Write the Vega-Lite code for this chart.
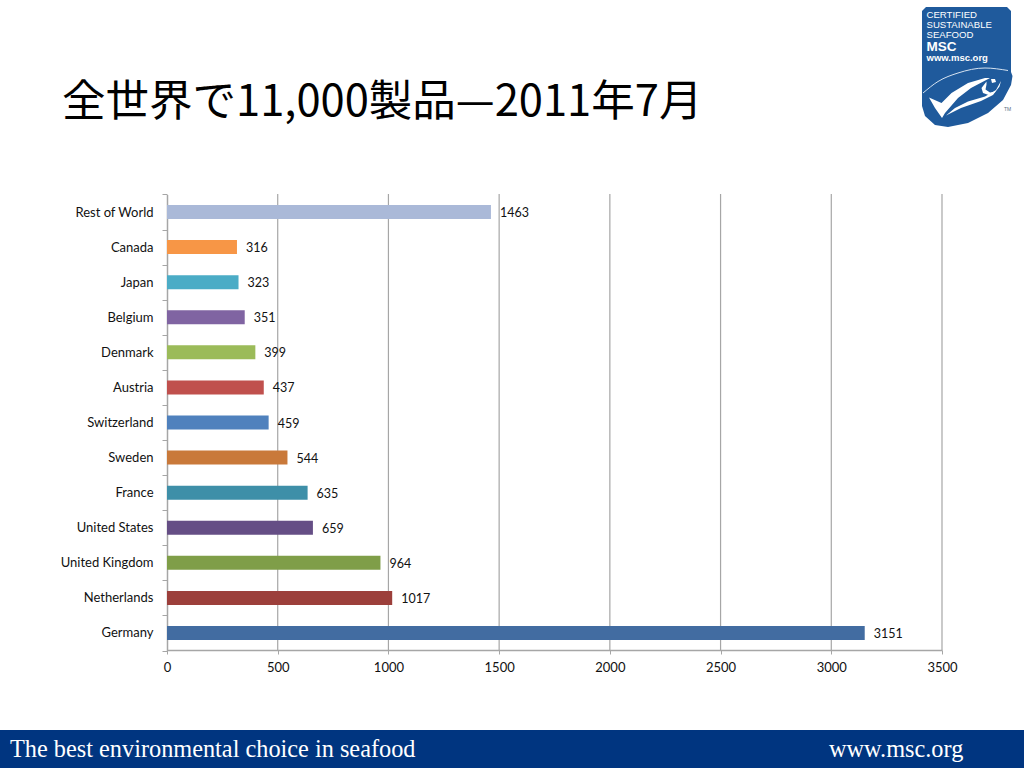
{
  "$schema": "https://vega.github.io/schema/vega-lite/v6.json",
  "width": 1024,
  "height": 768,
  "padding": 0,
  "autosize": {"type": "none"},
  "background": "#ffffff",
  "title": {
    "text": "全世界で11,000製品—2011年7月",
    "anchor": "start",
    "frame": "group",
    "font": "Noto Sans CJK JP",
    "fontSize": 43.5,
    "fontWeight": "normal",
    "color": "#000000",
    "baseline": "alphabetic",
    "offset": 0,
    "dx": 62,
    "dy": 165
  },
  "config": {"view": {"stroke": null}, "font": "Lato"},
  "datasets": {
    "sales": [
      {"country": "Rest of World", "products": 1463},
      {"country": "Canada", "products": 316},
      {"country": "Japan", "products": 323},
      {"country": "Belgium", "products": 351},
      {"country": "Denmark", "products": 399},
      {"country": "Austria", "products": 437},
      {"country": "Switzerland", "products": 459},
      {"country": "Sweden", "products": 544},
      {"country": "France", "products": 635},
      {"country": "United States", "products": 659},
      {"country": "United Kingdom", "products": 964},
      {"country": "Netherlands", "products": 1017},
      {"country": "Germany", "products": 3151}
    ],
    "logoOutline": [
      {"part": "shield", "n": 1, "px": 926, "py": 7},
      {"part": "shield", "n": 2, "px": 1007, "py": 7},
      {"part": "shield", "n": 3, "px": 1011, "py": 11},
      {"part": "shield", "n": 4, "px": 1011, "py": 72},
      {"part": "shield", "n": 5, "px": 1012.5, "py": 76},
      {"part": "shield", "n": 6, "px": 1011, "py": 85},
      {"part": "shield", "n": 7, "px": 1003, "py": 100},
      {"part": "shield", "n": 8, "px": 988, "py": 113},
      {"part": "shield", "n": 9, "px": 968, "py": 123},
      {"part": "shield", "n": 10, "px": 948, "py": 127},
      {"part": "shield", "n": 11, "px": 935, "py": 125},
      {"part": "shield", "n": 12, "px": 925, "py": 116},
      {"part": "shield", "n": 13, "px": 922, "py": 106},
      {"part": "shield", "n": 14, "px": 922, "py": 11}
    ],
    "logoFish": [
      {"part": "check", "n": 1, "px": 929, "py": 97.5},
      {"part": "check", "n": 2, "px": 941.5, "py": 103},
      {"part": "check", "n": 3, "px": 951.5, "py": 93},
      {"part": "check", "n": 4, "px": 968, "py": 83},
      {"part": "check", "n": 5, "px": 985, "py": 78},
      {"part": "check", "n": 6, "px": 990, "py": 78},
      {"part": "check", "n": 7, "px": 971, "py": 88},
      {"part": "check", "n": 8, "px": 958, "py": 98},
      {"part": "check", "n": 9, "px": 945, "py": 113},
      {"part": "check", "n": 10, "px": 942, "py": 118},
      {"part": "check", "n": 11, "px": 935, "py": 108},
      {"part": "body", "n": 1, "px": 946, "py": 115.5},
      {"part": "body", "n": 2, "px": 961, "py": 108},
      {"part": "body", "n": 3, "px": 981, "py": 101},
      {"part": "body", "n": 4, "px": 993, "py": 95},
      {"part": "body", "n": 5, "px": 999.5, "py": 86.5},
      {"part": "body", "n": 6, "px": 1001, "py": 81},
      {"part": "body", "n": 7, "px": 996, "py": 90},
      {"part": "body", "n": 8, "px": 985, "py": 96.5},
      {"part": "body", "n": 9, "px": 968, "py": 101.5},
      {"part": "body", "n": 10, "px": 955, "py": 108},
      {"part": "gill", "n": 1, "px": 986.5, "py": 81.5},
      {"part": "gill", "n": 2, "px": 981.5, "py": 88},
      {"part": "gill", "n": 3, "px": 983, "py": 93},
      {"part": "gill", "n": 4, "px": 990, "py": 95.5},
      {"part": "gill", "n": 5, "px": 996, "py": 91.5},
      {"part": "gill", "n": 6, "px": 990, "py": 92.5},
      {"part": "gill", "n": 7, "px": 985.5, "py": 89.5},
      {"part": "gill", "n": 8, "px": 986.5, "py": 84.5},
      {"part": "eye", "n": 1, "px": 991, "py": 79},
      {"part": "eye", "n": 2, "px": 995, "py": 79},
      {"part": "eye", "n": 3, "px": 996, "py": 82},
      {"part": "eye", "n": 4, "px": 992, "py": 83}
    ],
    "logoArc": [
      {"n": 1, "px": 923, "py": 93},
      {"n": 2, "px": 938, "py": 81.5},
      {"n": 3, "px": 958, "py": 73},
      {"n": 4, "px": 985, "py": 68},
      {"n": 5, "px": 1008, "py": 70.5}
    ]
  },
  "layer": [
    {
      "data": {"values": [{"x0": 0, "x1": 1024, "y0": 730, "y1": 768}]},
      "mark": {"type": "rect", "color": "#003580"},
      "encoding": {
        "x": {"field": "x0", "type": "quantitative", "axis": null, "scale": {"domain": [0, 1024], "range": [0, 1024], "zero": false, "nice": false}},
        "x2": {"field": "x1"},
        "y": {"field": "y0", "type": "quantitative", "axis": null, "scale": {"domain": [0, 768], "range": [0, 768], "zero": false, "nice": false}},
        "y2": {"field": "y1"}
      }
    },
    {
      "data": {"values": [
        {"label": "The best environmental choice in seafood", "px": 10, "py": 757},
        {"label": "www.msc.org", "px": 829, "py": 757}
      ]},
      "mark": {"type": "text", "font": "Liberation Serif", "fontSize": 24.3, "color": "#ffffff", "align": "left", "baseline": "alphabetic"},
      "encoding": {
        "x": {"field": "px", "type": "quantitative", "axis": null, "scale": {"domain": [0, 1024], "range": [0, 1024], "zero": false, "nice": false}},
        "y": {"field": "py", "type": "quantitative", "axis": null, "scale": {"domain": [0, 768], "range": [0, 768], "zero": false, "nice": false}},
        "text": {"field": "label"}
      }
    },
    {
      "data": {"name": "logoOutline"},
      "mark": {"type": "line", "filled": true, "interpolate": "linear-closed", "color": "#1f5a9c", "strokeWidth": 0},
      "encoding": {
        "x": {"field": "px", "type": "quantitative", "axis": null, "scale": {"domain": [0, 1024], "range": [0, 1024], "zero": false, "nice": false}},
        "y": {"field": "py", "type": "quantitative", "axis": null, "scale": {"domain": [0, 768], "range": [0, 768], "zero": false, "nice": false}},
        "order": {"field": "n"}
      }
    },
    {
      "data": {"name": "logoArc"},
      "mark": {"type": "line", "interpolate": "monotone", "color": "#d5e2f0", "strokeWidth": 1},
      "encoding": {
        "x": {"field": "px", "type": "quantitative", "axis": null, "scale": {"domain": [0, 1024], "range": [0, 1024], "zero": false, "nice": false}},
        "y": {"field": "py", "type": "quantitative", "axis": null, "scale": {"domain": [0, 768], "range": [0, 768], "zero": false, "nice": false}},
        "order": {"field": "n"}
      }
    },
    {
      "data": {"name": "logoFish"},
      "mark": {"type": "line", "filled": true, "interpolate": "linear-closed", "color": "#ffffff", "strokeWidth": 0},
      "encoding": {
        "x": {"field": "px", "type": "quantitative", "axis": null, "scale": {"domain": [0, 1024], "range": [0, 1024], "zero": false, "nice": false}},
        "y": {"field": "py", "type": "quantitative", "axis": null, "scale": {"domain": [0, 768], "range": [0, 768], "zero": false, "nice": false}},
        "detail": {"field": "part"},
        "order": {"field": "n"}
      }
    },
    {
      "data": {"values": [
        {"label": "CERTIFIED", "px": 926.5, "py": 17.5},
        {"label": "SUSTAINABLE", "px": 926.5, "py": 27.5},
        {"label": "SEAFOOD", "px": 926.5, "py": 37.5}
      ]},
      "mark": {"type": "text", "font": "Liberation Sans", "fontSize": 9.6, "color": "#ffffff", "align": "left", "baseline": "alphabetic"},
      "encoding": {
        "x": {"field": "px", "type": "quantitative", "axis": null, "scale": {"domain": [0, 1024], "range": [0, 1024], "zero": false, "nice": false}},
        "y": {"field": "py", "type": "quantitative", "axis": null, "scale": {"domain": [0, 768], "range": [0, 768], "zero": false, "nice": false}},
        "text": {"field": "label"}
      }
    },
    {
      "data": {"values": [{"label": "MSC", "px": 926.5, "py": 51}]},
      "mark": {"type": "text", "font": "Liberation Sans", "fontWeight": "bold", "fontSize": 13.5, "color": "#ffffff", "align": "left", "baseline": "alphabetic"},
      "encoding": {
        "x": {"field": "px", "type": "quantitative", "axis": null, "scale": {"domain": [0, 1024], "range": [0, 1024], "zero": false, "nice": false}},
        "y": {"field": "py", "type": "quantitative", "axis": null, "scale": {"domain": [0, 768], "range": [0, 768], "zero": false, "nice": false}},
        "text": {"field": "label"}
      }
    },
    {
      "data": {"values": [{"label": "www.msc.org", "px": 926.5, "py": 61}]},
      "mark": {"type": "text", "font": "Liberation Sans", "fontWeight": "bold", "fontSize": 9.5, "color": "#ffffff", "align": "left", "baseline": "alphabetic"},
      "encoding": {
        "x": {"field": "px", "type": "quantitative", "axis": null, "scale": {"domain": [0, 1024], "range": [0, 1024], "zero": false, "nice": false}},
        "y": {"field": "py", "type": "quantitative", "axis": null, "scale": {"domain": [0, 768], "range": [0, 768], "zero": false, "nice": false}},
        "text": {"field": "label"}
      }
    },
    {
      "data": {"values": [{"label": "TM", "px": 1004, "py": 111}]},
      "mark": {"type": "text", "font": "Liberation Sans", "fontSize": 5, "color": "#5a6f85", "align": "left", "baseline": "alphabetic"},
      "encoding": {
        "x": {"field": "px", "type": "quantitative", "axis": null, "scale": {"domain": [0, 1024], "range": [0, 1024], "zero": false, "nice": false}},
        "y": {"field": "py", "type": "quantitative", "axis": null, "scale": {"domain": [0, 768], "range": [0, 768], "zero": false, "nice": false}},
        "text": {"field": "label"}
      }
    },
    {
      "data": {"values": [
        {"tick": 500, "y0": 194, "y1": 650},
        {"tick": 1000, "y0": 194, "y1": 650},
        {"tick": 1500, "y0": 194, "y1": 650},
        {"tick": 2000, "y0": 194, "y1": 650},
        {"tick": 2500, "y0": 194, "y1": 650},
        {"tick": 3000, "y0": 194, "y1": 650},
        {"tick": 3500, "y0": 194, "y1": 650}
      ]},
      "mark": {"type": "rule", "color": "#a6a6a6", "strokeWidth": 1.2},
      "encoding": {
        "x": {"field": "tick", "type": "quantitative", "axis": null, "scale": {"domain": [0, 3500], "range": [167, 942], "nice": false}},
        "y": {"field": "y0", "type": "quantitative", "axis": null, "scale": {"domain": [0, 768], "range": [0, 768], "zero": false, "nice": false}},
        "y2": {"field": "y1"}
      }
    },
    {
      "data": {"name": "sales"},
      "encoding": {
        "y": {
          "field": "country",
          "type": "nominal",
          "sort": null,
          "scale": {"range": [194.5, 650.5], "paddingInner": 0, "paddingOuter": 0},
          "axis": {
            "title": null,
            "orient": "left",
            "offset": -167,
            "domainColor": "#a6a6a6",
            "domainWidth": 1.5,
            "tickColor": "#a6a6a6",
            "tickSize": 5,
            "tickWidth": 1,
            "tickBand": "extent",
            "labelFont": "Lato",
            "labelFontSize": 13,
            "labelColor": "#111111",
            "labelPadding": 9
          }
        },
        "x": {
          "field": "products",
          "type": "quantitative",
          "scale": {"domain": [0, 3500], "range": [167, 942], "nice": false},
          "axis": {
            "title": null,
            "orient": "bottom",
            "offset": -118,
            "values": [0, 500, 1000, 1500, 2000, 2500, 3000, 3500],
            "grid": false,
            "domainColor": "#a6a6a6",
            "domainWidth": 1.5,
            "tickColor": "#a6a6a6",
            "tickSize": 4,
            "labelFont": "Lato",
            "labelFontSize": 13,
            "labelColor": "#111111",
            "labelPadding": 7,
            "labelFlush": false,
            "format": "d"
          }
        }
      },
      "layer": [
        {
          "mark": {"type": "bar", "size": 14},
          "encoding": {
            "color": {
              "field": "country",
              "type": "nominal",
              "legend": null,
              "scale": {
                "domain": ["Rest of World", "Canada", "Japan", "Belgium", "Denmark", "Austria", "Switzerland", "Sweden", "France", "United States", "United Kingdom", "Netherlands", "Germany"],
                "range": ["#aab9d8", "#f79646", "#4bacc6", "#8064a2", "#9bbb59", "#c0504d", "#4f81bd", "#c9793a", "#3e8fa8", "#654e85", "#7f9e48", "#9c3f3b", "#426ca1"]
              }
            }
          }
        },
        {
          "mark": {"type": "text", "align": "left", "dx": 9, "dy": 1, "font": "Lato", "fontSize": 12.5, "color": "#111111"},
          "encoding": {"text": {"field": "products", "type": "quantitative", "format": "d"}}
        }
      ]
    }
  ],
  "resolve": {"scale": {"x": "independent", "y": "independent", "color": "independent"}}
}
